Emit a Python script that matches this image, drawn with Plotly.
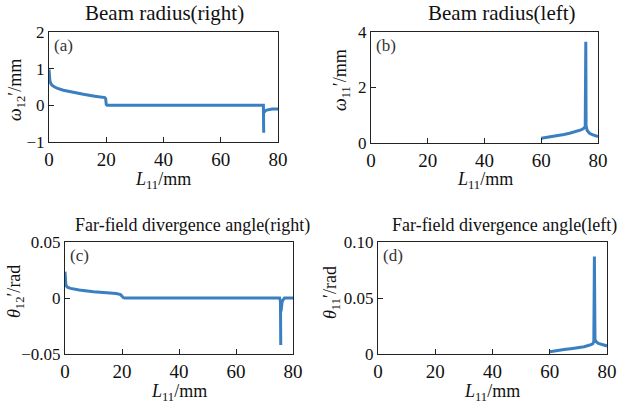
import plotly.graph_objects as go

W, H = 623, 406
FONT = "Liberation Serif"
LINE = "#3a7fc1"

# ---- data ----
a_x = [0, 0.1, 0.3, 0.6, 1, 2, 3, 5, 8, 12, 16, 19.5, 19.8, 20, 20.3, 30, 40, 50, 60, 70, 74.9, 75, None, 75.2, 75.5, 76, 77, 78, 80]
a_y = [0.98, 0.8, 0.68, 0.6, 0.55, 0.5, 0.46, 0.41, 0.36, 0.3, 0.25, 0.21, 0.18, 0.02, 0, 0, 0, 0, 0, 0, 0, -0.75, None, -0.2, -0.15, -0.13, -0.11, -0.1, -0.1]

b_x = [60, 62, 65, 68, 70, 72, 74, 75, 75.5, 75.7, 75.8, 76.2, 77, 78, 79, 80]
b_y = [0.17, 0.2, 0.25, 0.31, 0.35, 0.4, 0.47, 0.53, 0.6, 3.65, 0.62, 0.45, 0.35, 0.3, 0.26, 0.23]

c_x = [0, 0.1, 0.3, 0.5, 1, 2, 5, 10, 15, 18, 19.5, 20, 20.5, 21, 30, 40, 50, 60, 70, 75.3, 75.6, 75.7, None, 75.8, 76.2, 77, 80]
c_y = [0.0235, 0.016, 0.012, 0.0107, 0.0095, 0.0086, 0.0072, 0.0056, 0.0046, 0.004, 0.003, 0.0015, 0.0003, 0, 0, 0, 0, 0, 0, 0, -0.003, -0.042, None, -0.012, -0.003, 0, 0]

d_x = [60, 62, 65, 68, 70, 72, 74, 75, 75.4, 75.6, 75.8, 76.2, 77, 78, 79, 80]
d_y = [0.002, 0.003, 0.004, 0.005, 0.0056, 0.0065, 0.008, 0.009, 0.011, 0.087, 0.013, 0.011, 0.0095, 0.0085, 0.0078, 0.0072]

x_ticks = [0, 20, 40, 60, 80]
x_ticktext = ["0", "20", "40", "60", "80"]
a_ticks = [-1, 0, 1, 2]
a_ticktext = ["\u22121", "0", "1", "2"]
b_ticks = [0, 2, 4]
b_ticktext = ["0", "2", "4"]
c_ticks = [-0.05, 0, 0.05]
c_ticktext = ["\u22120.05", "0", "0.05"]
d_ticks = [0, 0.05, 0.10]
d_ticktext = ["0", "0.05", "0.10"]

titles = ["Beam radius(right)", "Beam radius(left)",
          "Far-field divergence angle(right)", "Far-field divergence angle(left)"]
panel_labels = ["(a)", "(b)", "(c)", "(d)"]
x_title = "<i>L</i><sub>11</sub>/mm"
y_titles = ["<i>\u03c9</i><sub>12</sub>\u2032/mm", "<i>\u03c9</i><sub>11</sub>\u2032/mm",
            "<i>\u03b8</i><sub>12</sub>\u2032/rad", "<i>\u03b8</i><sub>11</sub>\u2032/rad"]

# ---- layout geometry (pixels) ----
boxes = [  # left, right, top, bottom
    (49, 278, 32, 142),
    (371, 598, 32, 143),
    (65, 293, 242, 354),
    (378, 607, 242, 354),
]
xrange_ = [0, 80]
yranges = [[-1, 2], [0, 4], [-0.05, 0.05], [0, 0.10]]
yticks = [(a_ticks, a_ticktext), (b_ticks, b_ticktext), (c_ticks, c_ticktext), (d_ticks, d_ticktext)]
title_pos = [(164, 13), (502, 13), (192, 225), (504, 225)]
title_size = [21, 21, 18, 18]
xtitle_pos = [(163, 180), (485, 180), (179, 392), (492, 392)]
ytitle_pos = [(16, 90), (342, 80), (15, 292), (331, 293)]

fig = go.Figure()
data = [(a_x, a_y), (b_x, b_y), (c_x, c_y), (d_x, d_y)]
annotations = []
TXT = "#111"
AX = "#222"
for i, ((xs, ys), (l, r, t, b)) in enumerate(zip(data, boxes)):
    n = "" if i == 0 else str(i + 1)
    fig.add_trace(go.Scatter(x=xs, y=ys, mode="lines", line=dict(color=LINE, width=3),
                             xaxis="x" + n, yaxis="y" + n, showlegend=False, connectgaps=False))

    # axis-end arrows, placed a few pixels beyond the axis ends via the axis scale
    y0, y1 = yranges[i]
    ux = (xrange_[1] - xrange_[0]) / (r - l)   # data units per pixel (x)
    uy = (y1 - y0) / (b - t)                   # data units per pixel (y)
    fig.add_trace(go.Scatter(x=[xrange_[1], xrange_[1] + 8 * ux], y=[y0, y0], mode="lines",
                             line=dict(color=AX, width=1), cliponaxis=False, hoverinfo="skip",
                             xaxis="x" + n, yaxis="y" + n, showlegend=False))
    fig.add_trace(go.Scatter(x=[xrange_[1] + 9 * ux], y=[y0], mode="markers",
                             marker=dict(symbol="triangle-right", size=9, color="#111", line=dict(width=0)),
                             cliponaxis=False, hoverinfo="skip",
                             xaxis="x" + n, yaxis="y" + n, showlegend=False))
    fig.add_trace(go.Scatter(x=[xrange_[0], xrange_[0]], y=[y1, y1 + 6 * uy], mode="lines",
                             line=dict(color=AX, width=1), cliponaxis=False, hoverinfo="skip",
                             xaxis="x" + n, yaxis="y" + n, showlegend=False))
    fig.add_trace(go.Scatter(x=[xrange_[0]], y=[y1 + 7 * uy], mode="markers",
                             marker=dict(symbol="triangle-up", size=9, color="#111", line=dict(width=0)),
                             cliponaxis=False, hoverinfo="skip",
                             xaxis="x" + n, yaxis="y" + n, showlegend=False))

    common = dict(showline=True, linecolor=AX, linewidth=1, mirror=True,
                  ticks="inside", ticklen=5, tickcolor=AX, showgrid=False, zeroline=False,
                  automargin=False)
    fig.layout["xaxis" + n] = dict(domain=[l / W, r / W], range=xrange_, tickvals=x_ticks,
                                   ticktext=x_ticktext, anchor="y" + n,
                                   tickfont=dict(family=FONT, size=19, color=TXT), **common)
    fig.layout["yaxis" + n] = dict(domain=[1 - b / H, 1 - t / H], range=yranges[i],
                                   tickvals=yticks[i][0], ticktext=yticks[i][1], anchor="x" + n,
                                   tickfont=dict(family=FONT, size=17, color=TXT), **common)
    tx, ty = title_pos[i]
    annotations.append(dict(x=tx / W, y=1 - ty / H, xref="paper", yref="paper", text=titles[i],
                            xanchor="center", yanchor="middle",
                            showarrow=False, font=dict(family=FONT, size=title_size[i], color=TXT)))
    annotations.append(dict(x=xtitle_pos[i][0] / W, y=1 - xtitle_pos[i][1] / H, xref="paper", yref="paper",
                            xanchor="center", yanchor="middle",
                            text=x_title, showarrow=False, font=dict(family=FONT, size=18, color=TXT)))
    annotations.append(dict(x=ytitle_pos[i][0] / W, y=1 - ytitle_pos[i][1] / H, xref="paper", yref="paper",
                            xanchor="center", yanchor="middle",
                            text=y_titles[i], textangle=-90, showarrow=False,
                            font=dict(family=FONT, size=18, color=TXT)))
    annotations.append(dict(x=(l + 3) / W, y=1 - (t + 2) / H, xref="paper", yref="paper",
                            text=panel_labels[i], showarrow=False, xanchor="left", yanchor="top",
                            font=dict(family=FONT, size=17, color="#333")))

fig.update_layout(width=W, height=H, margin=dict(l=0, r=0, t=0, b=0, pad=0, autoexpand=False),
                  paper_bgcolor="white", plot_bgcolor="white", annotations=annotations)
fig.write_html("out.html", config={"displayModeBar": False, "staticPlot": True},
               post_script="document.body.style.margin='0';document.body.style.overflow='hidden';")
